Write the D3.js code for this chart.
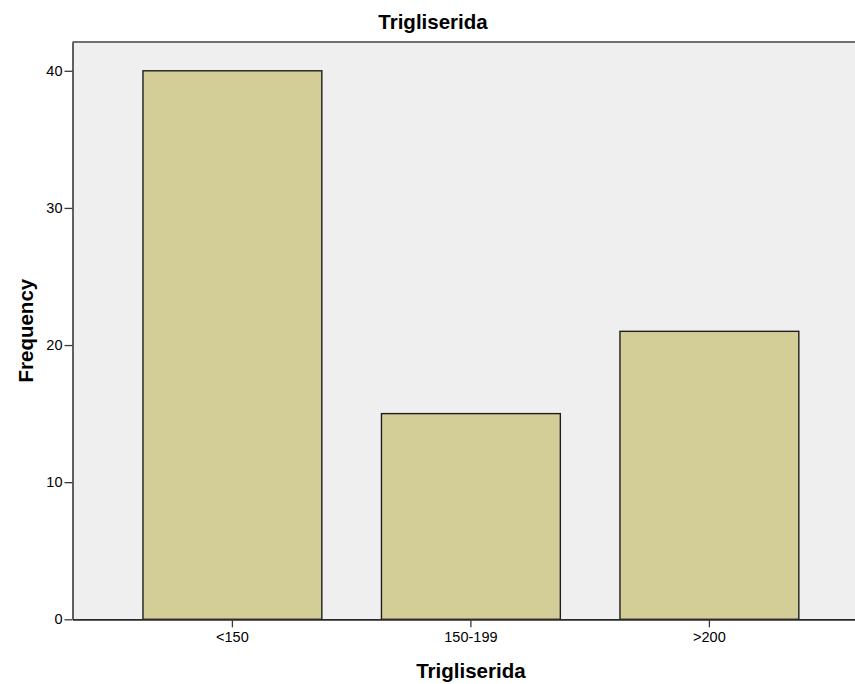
<!DOCTYPE html>
<html>
<head>
<meta charset="utf-8">
<script src="https://cdn.jsdelivr.net/npm/d3@7"></script>
<style>
  html, body { margin: 0; padding: 0; background: #ffffff; }
  svg { display: block; }
  text { font-family: "Liberation Sans", Arial, sans-serif; fill: #000; }
</style>
</head>
<body>
<svg id="chart" width="855" height="684"></svg>
<script>
const categories = ["<150", "150-199", ">200"];
const frequencies = [40, 15, 21];
const yTicks = [0, 10, 20, 30, 40];
const chartTitle = "Trigliserida";
const xTitle = "Trigliserida";
const yTitle = "Frequency";

const W = 855, H = 684;
const plot = { left: 72.5, top: 42, right: 869.3, bottom: 619.3 };

const svg = d3.select("#chart");

const x = d3.scaleBand()
  .domain(categories)
  .range([plot.left, plot.right])
  .paddingInner(0.25)
  .paddingOuter(0.2955);

const y = d3.scaleLinear()
  .domain([0, 42.1])
  .range([plot.bottom, plot.top]);

// plot background
svg.append("rect")
  .attr("x", plot.left)
  .attr("y", plot.top)
  .attr("width", plot.right - plot.left)
  .attr("height", plot.bottom - plot.top)
  .attr("fill", "#efefef");

// top frame line
svg.append("line")
  .attr("x1", plot.left).attr("x2", plot.right)
  .attr("y1", plot.top).attr("y2", plot.top)
  .attr("stroke", "#707070").attr("stroke-width", 2);

// bars
svg.append("g").selectAll("rect")
  .data(categories.map((c, i) => ({ c, v: frequencies[i] })))
  .join("rect")
  .attr("x", d => x(d.c))
  .attr("y", d => y(d.v))
  .attr("width", x.bandwidth())
  .attr("height", d => y(0) - y(d.v))
  .attr("fill", "#d3ce97")
  .attr("stroke", "#1e1e1e")
  .attr("stroke-width", 1.4);

// y axis
const yAxis = svg.append("g")
  .attr("transform", `translate(${plot.left},0)`)
  .call(d3.axisLeft(y).tickValues(yTicks).tickSize(8).tickPadding(2).tickSizeOuter(0));
yAxis.select(".domain").attr("stroke", "#3a3a3a").attr("stroke-width", 1.6);
yAxis.selectAll(".tick line").attr("stroke", "#3a3a3a").attr("stroke-width", 1.3);
yAxis.selectAll(".tick text")
  .attr("font-size", 14.5)
  .attr("font-family", "'Liberation Sans', Arial, sans-serif")
  .attr("fill", "#111");

// x axis
const xAxis = svg.append("g")
  .attr("transform", `translate(0,${plot.bottom})`)
  .call(d3.axisBottom(x).tickSize(8).tickPadding(4).tickSizeOuter(0));
xAxis.select(".domain").attr("stroke", "#2a2a2a").attr("stroke-width", 1.8);
xAxis.selectAll(".tick line").attr("stroke", "#3a3a3a").attr("stroke-width", 1.3);
xAxis.selectAll(".tick text")
  .attr("font-size", 14.5)
  .attr("font-family", "'Liberation Sans', Arial, sans-serif")
  .attr("fill", "#111");

// titles
svg.append("text")
  .attr("x", 433)
  .attr("y", 29)
  .attr("text-anchor", "middle")
  .attr("font-size", 20.5)
  .attr("font-weight", "bold")
  .text(chartTitle);

svg.append("text")
  .attr("x", (plot.left + plot.right) / 2)
  .attr("y", 678)
  .attr("text-anchor", "middle")
  .attr("font-size", 20.5)
  .attr("font-weight", "bold")
  .text(xTitle);

svg.append("text")
  .attr("transform", `translate(33,${(plot.top + plot.bottom) / 2}) rotate(-90)`)
  .attr("text-anchor", "middle")
  .attr("font-size", 20.5)
  .attr("font-weight", "bold")
  .text(yTitle);
</script>
</body>
</html>
